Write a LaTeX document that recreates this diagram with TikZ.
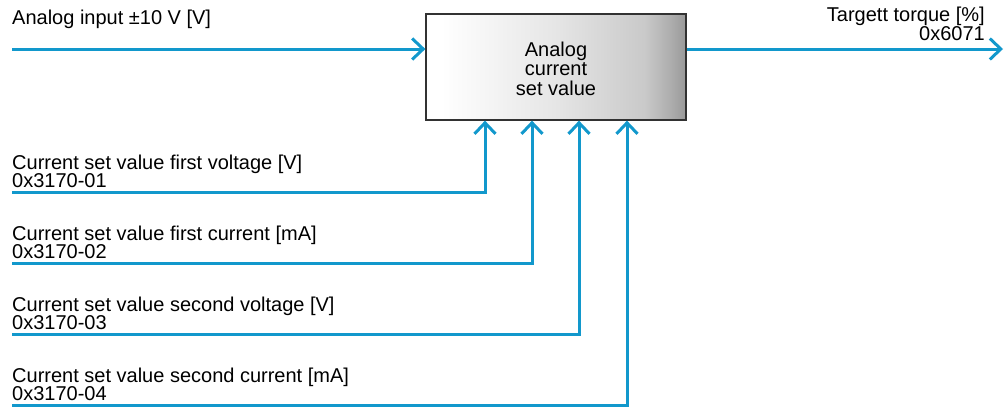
\documentclass[tikz,border=0pt]{standalone}
\usepackage{fontspec}
\setmainfont{Liberation Sans}
\usetikzlibrary{arrows.meta}
\definecolor{lineblue}{RGB}{18,152,204}
\definecolor{boxedge}{RGB}{50,50,50}
\pgfdeclarehorizontalshading{boxshade}{100bp}{%
  color(0bp)=(white); color(25bp)=(white); color(28bp)=(white);
  color(50bp)=(black!10); color(67bp)=(black!21); color(72bp)=(black!32);
  color(75bp)=(black!40); color(100bp)=(black!40)}
\begin{document}
\begin{tikzpicture}[x=1pt,y=-1pt,
  conn/.style={draw=lineblue,line width=3pt,-{Straight Barb[length=11pt,width=21pt,line width=3pt]}},
  lbl/.style={inner sep=0pt,font=\fontsize{20}{18.5}\selectfont,align=left},
  blk/.style={draw=boxedge,line width=1.3pt,minimum width=260pt,minimum height=106pt,
     shading=boxshade,inner sep=0pt},
  blktxt/.style={inner sep=0pt,align=center,font=\fontsize{20}{19.2}\selectfont}]
\useasboundingbox (0,0) rectangle (1005,408);
\node[blk] (box) at (556,67) {};
\node[blktxt,anchor=base] (boxlbl) at (556,95) {Analog\\current\\set value};
\node[lbl,anchor=base west] (lin) at (12,24) {Analog input ±10 V [V]};
\node[lbl,anchor=base east,align=right] (lout) at (985,40) {Targett torque [\%]\\0x6071};
\coordinate (in) at (12,49);
\coordinate (out) at (1003,49);
\draw[conn] (in) -- (box.west |- in);
\draw[conn] (box.east |- out) -- (out);
\node[lbl,anchor=south west] (l1) at (12,188) {Current set value first voltage [V]\\0x3170-01};
\node[lbl,anchor=south west] (l2) at (12,259) {Current set value first current [mA]\\0x3170-02};
\node[lbl,anchor=south west] (l3) at (12,330) {Current set value second voltage [V]\\0x3170-03};
\node[lbl,anchor=south west] (l4) at (12,401) {Current set value second current [mA]\\0x3170-04};
\coordinate (s1) at (12,192);
\coordinate (s2) at (12,263);
\coordinate (s3) at (12,334);
\coordinate (s4) at (12,405);
\coordinate (x1) at (485,0);
\coordinate (x2) at (532,0);
\coordinate (x3) at (579,0);
\coordinate (x4) at (627,0);
\draw[conn] (s1) -| (box.south -| x1);
\draw[conn] (s2) -| (box.south -| x2);
\draw[conn] (s3) -| (box.south -| x3);
\draw[conn] (s4) -| (box.south -| x4);
\end{tikzpicture}
\end{document}
